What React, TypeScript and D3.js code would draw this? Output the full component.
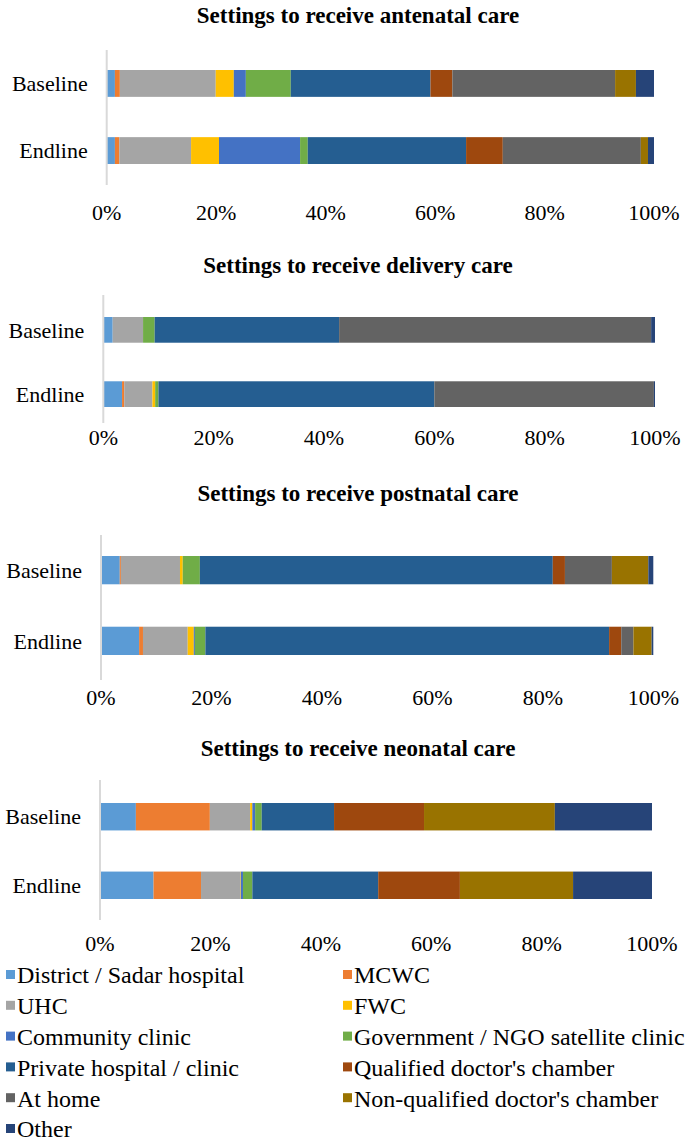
import React from "react";
import * as d3 from "d3";

const categories = ["Baseline", "Endline"];
const settings = [
  "District / Sadar hospital",
  "MCWC",
  "UHC",
  "FWC",
  "Community clinic",
  "Government / NGO satellite clinic",
  "Private hospital / clinic",
  "Qualified doctor's chamber",
  "At home",
  "Non-qualified doctor's chamber",
  "Other",
];
const colors = [
  "#5B9BD5", "#ED7D31", "#A5A5A5", "#FFC000", "#4472C4", "#70AD47",
  "#255E91", "#9E480E", "#636363", "#997300", "#264478",
];
const tickValues = [0, 20, 40, 60, 80, 100];

const antenatalBaseline = [1.5, 0.9, 17.5, 3.3, 2.2, 8.2, 25.5, 4.0, 29.7, 3.8, 3.3];
const antenatalEndline = [1.5, 0.8, 13.1, 5.1, 14.8, 1.4, 28.9, 6.7, 25.2, 1.3, 1.1];
const deliveryBaseline = [1.7, 0, 5.5, 0, 0, 2.1, 33.4, 0, 56.5, 0, 0.7];
const deliveryEndline = [3.4, 0.4, 5.1, 0.5, 0, 0.6, 50.0, 0, 39.8, 0, 0.2];
const postnatalBaseline = [3.4, 0.2, 10.7, 0.5, 0, 3.1, 63.9, 2.2, 8.5, 6.6, 0.9];
const postnatalEndline = [6.9, 0.7, 8.1, 1.1, 0.2, 1.9, 73.1, 2.2, 2.2, 3.3, 0.3];
const neonatalBaseline = [6.5, 13.4, 7.3, 0.4, 0.5, 1.2, 13.1, 16.3, 0, 23.7, 17.6];
const neonatalEndline = [9.7, 8.6, 7.1, 0.1, 0.4, 1.7, 22.8, 14.8, 0, 20.5, 14.3];

const titles = [
  "Settings to receive antenatal care",
  "Settings to receive delivery care",
  "Settings to receive postnatal care",
  "Settings to receive neonatal care",
];
const panelData = [
  [antenatalBaseline, antenatalEndline],
  [deliveryBaseline, deliveryEndline],
  [postnatalBaseline, postnatalEndline],
  [neonatalBaseline, neonatalEndline],
];

// layout (pixels)
const layout = [
  { x0: 106.7, x1: 654, titleY: 23, axisTop: 50, axisBottom: 185, barTop: 70, barBottom: 164, tickY: 220 },
  { x0: 103.3, x1: 655, titleY: 273, axisTop: 295, axisBottom: 423, barTop: 317, barBottom: 407, tickY: 445 },
  { x0: 101, x1: 653.3, titleY: 501, axisTop: 535, axisBottom: 680, barTop: 556, barBottom: 655, tickY: 705 },
  { x0: 100, x1: 652, titleY: 756, axisTop: 780, axisBottom: 920, barTop: 803, barBottom: 899, tickY: 951 },
];
const TITLE_X = 358;

const FONT = "Liberation Serif";

function Panel({ idx }: { idx: number }) {
  const L = layout[idx];
  const x = d3.scaleLinear().domain([0, 100]).range([L.x0, L.x1]);
  const y = d3
    .scaleBand<string>()
    .domain(categories)
    .range([L.barTop, L.barBottom])
    .paddingInner(0.6)
    .paddingOuter(0);
  const rows = panelData[idx];
  return (
    <g>
      <text
        x={TITLE_X}
        y={L.titleY}
        textAnchor="middle"
        style={{ fontFamily: FONT, fontWeight: "bold", fontSize: "23px" }}
        fill="#000"
      >
        {titles[idx]}
      </text>
      {rows.map((vals, ri) => {
        const total = d3.sum(vals);
        const cum = [0, ...d3.cumsum(vals)];
        const cat = categories[ri];
        return (
          <g key={ri}>
            {vals.map((v, si) =>
              v > 0 ? (
                <rect
                  key={si}
                  x={x((cum[si] / total) * 100)}
                  width={x((cum[si + 1] / total) * 100) - x((cum[si] / total) * 100)}
                  y={y(cat)}
                  height={y.bandwidth()}
                  fill={colors[si]}
                />
              ) : null
            )}
            <text
              x={L.x0 - 19}
              y={(y(cat) ?? 0) + y.bandwidth() / 2}
              dy="0.35em"
              textAnchor="end"
              style={{ fontFamily: FONT, fontSize: "22px" }}
              fill="#000"
            >
              {cat}
            </text>
          </g>
        );
      })}
      <line x1={L.x0} x2={L.x0} y1={L.axisTop} y2={L.axisBottom} stroke="#D9D9D9" strokeWidth={2} />
      {tickValues.map((t) => (
        <text
          key={t}
          x={x(t)}
          y={L.tickY}
          textAnchor="middle"
          style={{ fontFamily: FONT, fontSize: "22px" }}
          fill="#000"
        >
          {t + "%"}
        </text>
      ))}
    </g>
  );
}

function Legend() {
  const rowY = d3.scaleLinear().domain([0, 5]).range([975, 1129]);
  const colX = [6, 343];
  return (
    <g>
      {settings.map((s, i) => {
        const col = i % 2;
        const row = Math.floor(i / 2);
        const cy = rowY(row);
        return (
          <g key={s}>
            <rect x={colX[col]} y={cy - 5} width={9} height={9} fill={colors[i]} />
            <text
              x={colX[col] + 11}
              y={cy}
              dy="0.35em"
              style={{ fontFamily: FONT, fontSize: "24px" }}
              fill="#000"
            >
              {s}
            </text>
          </g>
        );
      })}
    </g>
  );
}

export default function App() {
  return (
    <svg
      width={693}
      height={1143}
      style={{ position: "absolute", left: 0, top: 0, background: "#fff" }}
    >
      <rect width={693} height={1143} fill="#fff" />
      {[0, 1, 2, 3].map((i) => (
        <Panel key={i} idx={i} />
      ))}
      <Legend />
    </svg>
  );
}
